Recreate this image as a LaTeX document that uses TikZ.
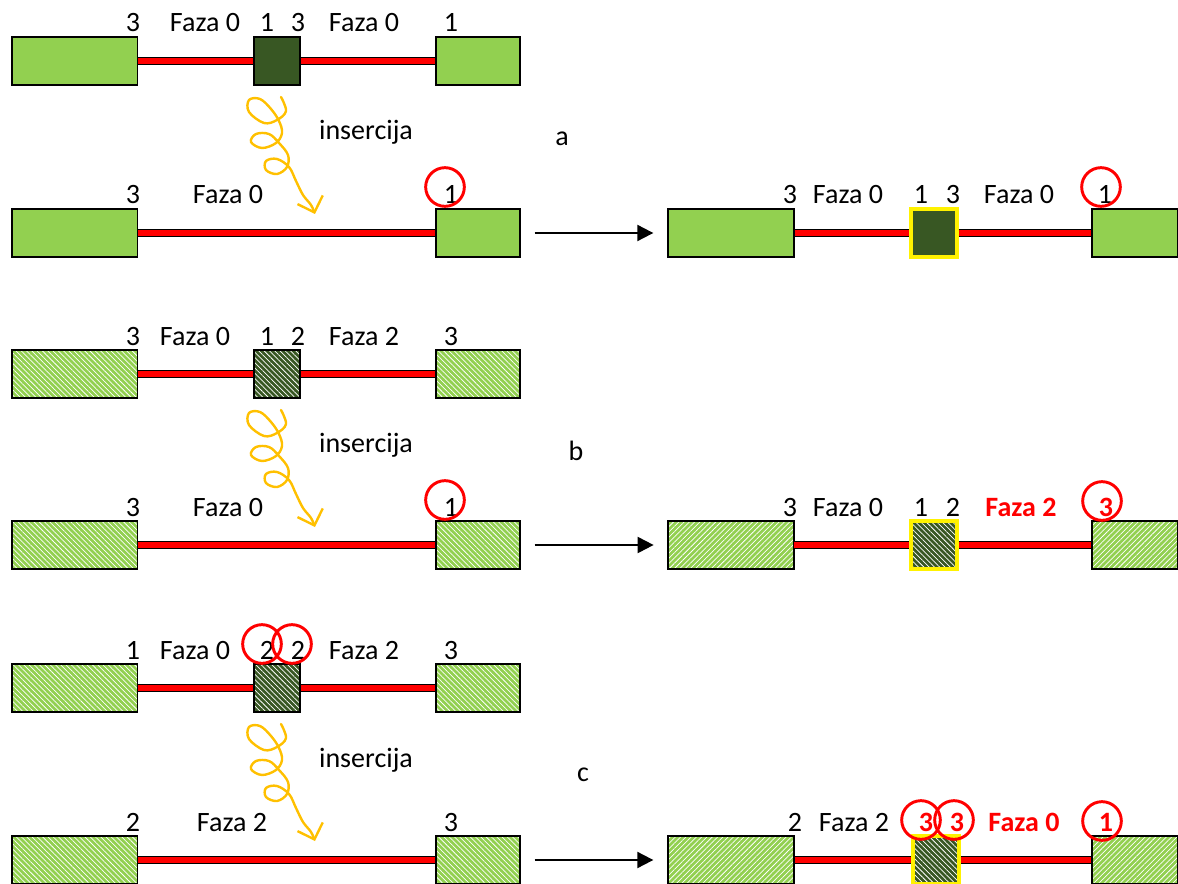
\documentclass[tikz,border=0pt]{standalone}
\usepackage{fontspec}
\setmainfont{Carlito}
\usetikzlibrary{arrows.meta,patterns.meta}
\definecolor{leafgreen}{HTML}{92D050}
\definecolor{darkleaf}{HTML}{385723}
\definecolor{insorange}{HTML}{FFC000}
\tikzset{box/.style = {draw, line width=1pt, rectangle, inner sep=0pt, minimum height=36pt},
         bigbox/.style = {box, minimum width=94pt},
         tailbox/.style = {box, minimum width=63pt},
         corebox/.style = {box, minimum width=34.5pt},
         lfill/.style = {fill=leafgreen},
         dfill/.style = {fill=darkleaf},
         lhatch/.style = {preaction={fill=leafgreen}, pattern={Lines[angle=#1,distance=2.8pt,line width=0.55pt]}, pattern color=white},
         lhatch/.default = -45,
         dhatch/.style = {preaction={fill=darkleaf}, pattern={Lines[angle=-45,distance=2.8pt,line width=0.55pt]}, pattern color=white},
         newcore/.style = {draw=yellow, line width=2.5pt},
         chrom/.style = {draw=black, double=red, line width=0.8pt, double distance=3.9pt},
         pfeil/.style = {-{Triangle[length=12pt,width=12pt]}, line width=1.5pt, shorten <=10.5pt, shorten >=10.5pt},
         lbl/.style = {anchor=base, inner sep=0pt, font=\fontsize{21}{25}\selectfont},
         hot/.style = {lbl, text=red, font=\fontsize{21}{25}\selectfont\bfseries},
         ring/.style = {circle, draw=red, line width=2.2pt, minimum size=29pt, inner sep=0pt},
         squig/.pic = {\draw[insorange, line width=1.8pt, line cap=round, line join=round, -{Straight Barb[length=10pt,width=20pt]}]
            plot[smooth, tension=0.6] coordinates {(0,0) (5,14) (-4,23) (-17,26) (-32,15) (-32,3) (-21,2) (-10,12) (-2,24)
            (1,36) (-5,46) (-19,51) (-30,45) (-25,37) (-12,37) (-2,46) (7,58) (6,70) (-4,77) (-15,73) (-15,64) (-4,62)
            (8,70) (15,84) (22,98) (30,108) (34,117)};}}

\begin{document}
\begin{tikzpicture}[x=0.75pt, y=-0.75pt]
    \useasboundingbox (0,0) rectangle (1178,884);

    % --- a ---
    \node[bigbox, lfill](aTL)at(74.5,61){};
    \node[corebox, dfill](aTD)at(277,61){};
    \node[tailbox, lfill](aTR)at(478,61){};
    \draw[chrom](aTL)--(aTD);
    \draw[chrom](aTD)--(aTR);
    \node[lbl](aT1)at(133,32){3};
    \node[lbl](aT2)at(205,32){Faza 0};
    \node[lbl](aT3)at(267,32){1};
    \node[lbl](aT4)at(298,32){3};
    \node[lbl](aT5)at(364,32){Faza 0};
    \node[lbl](aT6)at(451,32){1};

    \pic at (281,97) {squig};
    \node[lbl](aIns)at(366,140){insercija};
    \node[lbl](aTag)at(562,146){a};

    \node[bigbox, lfill](aBL)at(74.5,233){};
    \node[tailbox, lfill](aBR)at(478,233){};
    \draw[chrom](aBL)--(aBR);
    \node[lbl](aB1)at(133,204){3};
    \node[lbl](aB2)at(228,204){Faza 0};
    \node[lbl](aB3)at(451,204){1};
    \node[ring](aBc)at(445,187){};

    \node[bigbox, minimum width=94.5pt, lfill](aNL)at(731,233){};
    \node[corebox, dfill, newcore](aND)at(934,233){};
    \node[tailbox, minimum width=64.5pt, lfill](aNR)at(1135,233){};
    \draw[chrom](aNL)--(aND);
    \draw[chrom](aND)--(aNR);
    \draw[pfeil](aBR)--(aNL);
    \node[lbl](aN1)at(790,204){3};
    \node[lbl](aN2)at(848,204){Faza 0};
    \node[lbl](aN3)at(921,204){1};
    \node[lbl](aN4)at(953,204){3};
    \node[lbl](aN5)at(1019,204){Faza 0};
    \node[lbl](aN6)at(1105,204){1};
    \node[ring](aNc)at(1101,187){};

    % --- b ---
    \node[bigbox, lhatch](bTL)at(74.5,374){};
    \node[corebox, dhatch](bTD)at(277,374){};
    \node[tailbox, lhatch](bTR)at(478,374){};
    \draw[chrom](bTL)--(bTD);
    \draw[chrom](bTD)--(bTR);
    \node[lbl](bT1)at(133,345){3};
    \node[lbl](bT2)at(195,345){Faza 0};
    \node[lbl](bT3)at(267,345){1};
    \node[lbl](bT4)at(298,345){2};
    \node[lbl](bT5)at(364,345){Faza 2};
    \node[lbl](bT6)at(451,345){3};

    \pic at (281,410) {squig};
    \node[lbl](bIns)at(366,452){insercija};
    \node[lbl](bTag)at(576,460){b};

    \node[bigbox, lhatch](bBL)at(74.5,545){};
    \node[tailbox, lhatch](bBR)at(478,545){};
    \draw[chrom](bBL)--(bBR);
    \node[lbl](bB1)at(133,516){3};
    \node[lbl](bB2)at(228,516){Faza 0};
    \node[lbl](bB3)at(451,516){1};
    \node[ring](bBc)at(445,500){};

    \node[bigbox, minimum width=94.5pt, lhatch=45](bNL)at(731,545){};
    \node[corebox, dhatch, newcore](bND)at(934,545){};
    \node[tailbox, minimum width=64.5pt, lhatch=45](bNR)at(1135,545){};
    \draw[chrom](bNL)--(bND);
    \draw[chrom](bND)--(bNR);
    \draw[pfeil](bBR)--(bNL);
    \node[lbl](bN1)at(790,516){3};
    \node[lbl](bN2)at(848,516){Faza 0};
    \node[lbl](bN3)at(921,516){1};
    \node[lbl](bN4)at(953,516){2};
    \node[hot](bN5)at(1021,516){Faza 2};
    \node[hot](bN6)at(1106,516){3};
    \node[ring](bNc)at(1102,501){};

    % --- c ---
    \node[bigbox, lhatch](cTL)at(74.5,688){};
    \node[corebox, dhatch](cTD)at(277,688){};
    \node[tailbox, lhatch](cTR)at(478,688){};
    \draw[chrom](cTL)--(cTD);
    \draw[chrom](cTD)--(cTR);
    \node[lbl](cT1)at(133,659){1};
    \node[lbl](cT2)at(195,659){Faza 0};
    \node[lbl](cT3)at(267,659){2};
    \node[lbl](cT4)at(298,659){2};
    \node[lbl](cT5)at(364,659){Faza 2};
    \node[lbl](cT6)at(451,659){3};
    \node[ring](cTc1)at(262,644){};
    \node[ring](cTc2)at(292,644){};

    \pic at (281,724) {squig};
    \node[lbl](cIns)at(366,767){insercija};
    \node[lbl](cTag)at(583,781){c};

    \node[bigbox, lhatch](cBL)at(74.5,860){};
    \node[tailbox, lhatch](cBR)at(478,860){};
    \draw[chrom](cBL)--(cBR);
    \node[lbl](cB1)at(133,831){2};
    \node[lbl](cB2)at(232,831){Faza 2};
    \node[lbl](cB3)at(451,831){3};

    \node[bigbox, minimum width=94.5pt, lhatch=45](cNL)at(731,860){};
    \node[corebox, dhatch, newcore](cND)at(936,860){};
    \node[tailbox, minimum width=64.5pt, lhatch=45](cNR)at(1135,860){};
    \draw[chrom](cNL)--(cND);
    \draw[chrom](cND)--(cNR);
    \draw[pfeil](cBR)--(cNL);
    \node[lbl](cN1)at(795,831){2};
    \node[lbl](cN2)at(854,831){Faza 2};
    \node[hot](cN3)at(926,831){3};
    \node[hot](cN4)at(957,831){3};
    \node[hot](cN5)at(1024,831){Faza 0};
    \node[hot](cN6)at(1106,831){1};
    \node[ring](cNc1)at(921,820){};
    \node[ring](cNc2)at(954,820){};
    \node[ring](cNc3)at(1102,821){};
\end{tikzpicture}
\end{document}
